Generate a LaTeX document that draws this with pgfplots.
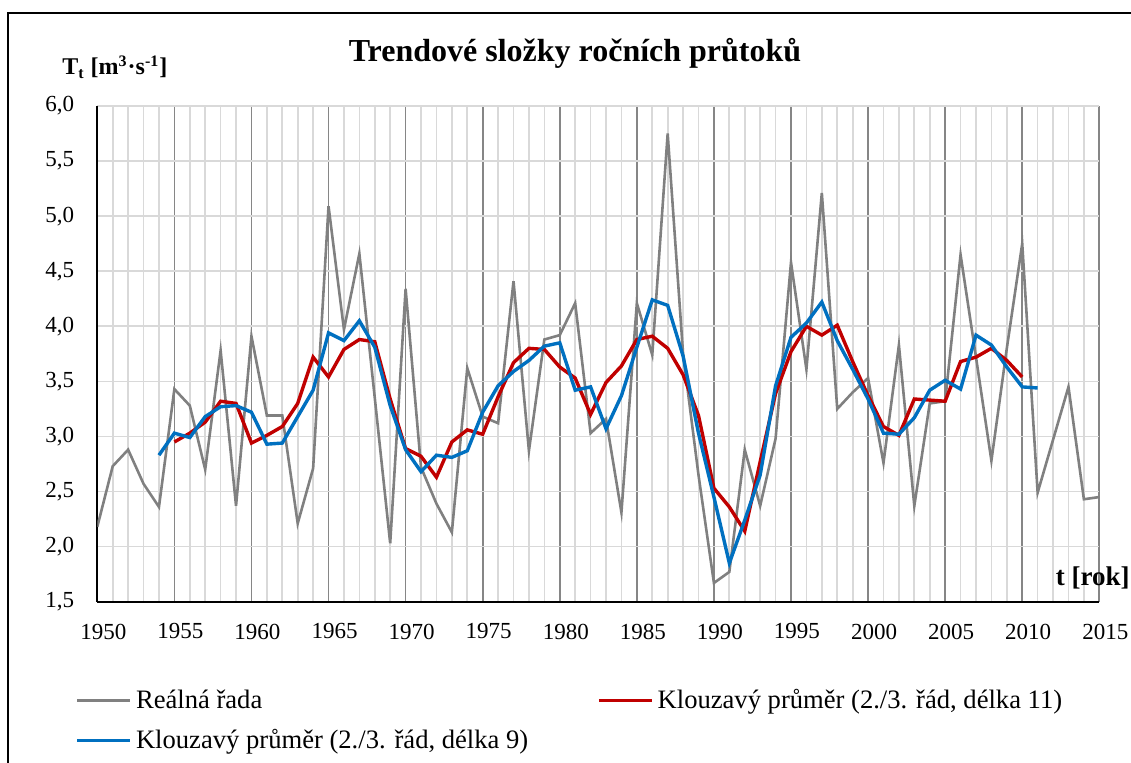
\documentclass[border=0pt]{standalone}
\usepackage{fontspec}
\setmainfont{Liberation Serif}
\usepackage{pgfplots}
\pgfplotsset{compat=1.18}
\usepackage{pgfplotstable}
\definecolor{realgray}{HTML}{808080}
\definecolor{mared}{HTML}{C00000}
\definecolor{mablue}{HTML}{0070C0}
\definecolor{gridmajor}{HTML}{868686}
\definecolor{gridminor}{HTML}{D9D9D9}

\pgfplotstableread{
year val
1950 2.18
1951 2.73
1952 2.88
1953 2.57
1954 2.36
1955 3.43
1956 3.28
1957 2.70
1958 3.78
1959 2.37
1960 3.91
1961 3.19
1962 3.19
1963 2.21
1964 2.71
1965 5.09
1966 3.97
1967 4.66
1968 3.35
1969 2.03
1970 4.34
1971 2.72
1972 2.39
1973 2.13
1974 3.62
1975 3.18
1976 3.12
1977 4.41
1978 2.87
1979 3.88
1980 3.92
1981 4.21
1982 3.03
1983 3.16
1984 2.31
1985 4.21
1986 3.74
1987 5.75
1988 3.75
1989 2.65
1990 1.67
1991 1.77
1992 2.88
1993 2.37
1994 2.98
1995 4.58
1996 3.61
1997 5.21
1998 3.25
1999 3.40
2000 3.53
2001 2.76
2002 3.83
2003 2.37
2004 3.30
2005 3.32
2006 4.65
2007 3.72
2008 2.78
2009 3.80
2010 4.75
2011 2.49
2012 2.97
2013 3.45
2014 2.43
2015 2.45
}\realdata

\pgfplotstableread{
year val
1955 2.95
1956 3.03
1957 3.13
1958 3.32
1959 3.30
1960 2.94
1961 3.01
1962 3.09
1963 3.30
1964 3.72
1965 3.54
1966 3.79
1967 3.88
1968 3.86
1969 3.34
1970 2.89
1971 2.82
1972 2.63
1973 2.95
1974 3.06
1975 3.02
1976 3.36
1977 3.67
1978 3.80
1979 3.79
1980 3.63
1981 3.53
1982 3.20
1983 3.49
1984 3.64
1985 3.88
1986 3.91
1987 3.80
1988 3.56
1989 3.19
1990 2.53
1991 2.36
1992 2.14
1993 2.77
1994 3.39
1995 3.77
1996 4.00
1997 3.92
1998 4.01
1999 3.68
2000 3.37
2001 3.09
2002 3.01
2003 3.34
2004 3.33
2005 3.32
2006 3.68
2007 3.72
2008 3.80
2009 3.69
2010 3.54
}\maeleven

\pgfplotstableread{
year val
1954 2.83
1955 3.03
1956 2.99
1957 3.18
1958 3.27
1959 3.28
1960 3.22
1961 2.93
1962 2.94
1963 3.18
1964 3.42
1965 3.94
1966 3.87
1967 4.05
1968 3.81
1969 3.28
1970 2.88
1971 2.68
1972 2.83
1973 2.81
1974 2.87
1975 3.22
1976 3.46
1977 3.59
1978 3.69
1979 3.82
1980 3.85
1981 3.42
1982 3.45
1983 3.07
1984 3.37
1985 3.81
1986 4.24
1987 4.19
1988 3.73
1989 3.03
1990 2.45
1991 1.85
1992 2.24
1993 2.65
1994 3.46
1995 3.90
1996 4.03
1997 4.22
1998 3.87
1999 3.61
2000 3.34
2001 3.03
2002 3.02
2003 3.17
2004 3.42
2005 3.51
2006 3.43
2007 3.92
2008 3.83
2009 3.63
2010 3.45
2011 3.44
}\manine

\begin{document}
\begin{tikzpicture}
\useasboundingbox (0,0) rectangle (565.5pt,381.5pt);
\draw[line width=0.8pt, black] (4pt,-30pt) rectangle (620pt,375pt);
\begin{axis}[
  at={(48.65pt,80.65pt)}, anchor=south west,
  scale only axis, width=501pt, height=247.85pt,
  xmin=1950, xmax=2015, ymin=1.5, ymax=6,
  axis x line*=bottom, axis y line*=left,
  axis line style={-, black, line width=0.9pt},
  xtick={1950,1955,...,2015},
  minor xtick={1950,1951,...,2015},
  ytick={1.5,2,...,6},
  minor ytick={1.5,2,...,6},
  xmajorgrids=true, xminorgrids=true,
  ymajorgrids=false, yminorgrids=true,
  major grid style={color=gridmajor, line width=0.85pt},
  minor grid style={color=gridminor, line width=0.85pt},
  major tick length=0pt, minor tick length=0pt,
  /pgf/number format/assume math mode=true,
  xticklabel style={font=\fontsize{11.5}{13}\selectfont, /pgf/number format/1000 sep={}, yshift=-7.5pt, xshift=3pt},
  yticklabel style={font=\fontsize{11.5}{13}\selectfont, /pgf/number format/fixed, /pgf/number format/fixed zerofill, /pgf/number format/precision=1, /pgf/number format/use comma, xshift=-8pt},
  legend columns=2,
  legend cell align=left,
  legend image code/.code={\draw[#1] (0pt,0pt) -- (26.5pt,0pt);},
  legend style={draw=none, fill=none, at={(-0.028,-0.16)}, anchor=north west,
    font=\fontsize{13.3}{15}\selectfont, row sep=5pt,
    /tikz/every even column/.append style={column sep=32.5pt}},
]
\addplot[realgray, line width=1.3pt] table[x=year, y=val] {\realdata};
\addlegendentry{Reálná řada}
\addplot[mared, line width=1.7pt] table[x=year, y=val] {\maeleven};
\addlegendentry{Klouzavý průměr (2./3. řád, délka 11)}
\addplot[mablue, line width=1.7pt] table[x=year, y=val] {\manine};
\addlegendentry{Klouzavý průměr (2./3. řád, délka 9)}
\end{axis}
\node[font=\bfseries\fontsize{16}{18}\selectfont] at (287.5pt,355pt) {Trendové složky ročních průtoků};
\node[font=\bfseries\fontsize{12}{14}\selectfont, anchor=west, inner sep=0pt] at (31pt,348pt) {T\textsubscript{t} [m\textsuperscript{3}·s\textsuperscript{-1}]};
\node[font=\bfseries\fontsize{13.5}{16}\selectfont, anchor=east, inner sep=0pt] at (565pt,92.5pt) {t [rok]};
\end{tikzpicture}
\end{document}
